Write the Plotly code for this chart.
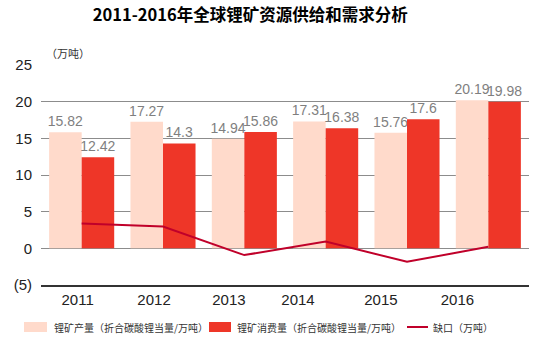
import plotly.graph_objects as go

years = ["2011", "2012", "2013", "2014", "2015", "2016"]
supply = [15.82, 17.27, 14.94, 17.31, 15.76, 20.19]
demand = [12.42, 14.3, 15.86, 16.38, 17.6, 19.98]
gap = [3.4, 2.97, -0.92, 0.93, -1.84, 0.21]

y_ticks = [-5, 0, 5, 10, 15, 20, 25]
y_tick_text = ["(5)", "0", "5", "10", "15", "20", "25"]

series_names = ["锂矿产量（折合碳酸锂当量/万吨）", "锂矿消费量（折合碳酸锂当量/万吨）", "缺口（万吨）"]

xpos = list(range(len(years)))
# year labels sit slightly left of each group
label_shift = [-0.05, -0.11, -0.19, -0.34, -0.32, -0.38]

LIGHT = "#FFDACB"
DARK = "#EE3628"
LINE = "#C0002A"
CJK = "Noto Sans CJK SC"
W, H = 550, 338
ML, MR, MT, MB = 41, 21, 65, 53

fig = go.Figure()
for vals, name, color in [(supply, series_names[0], LIGHT), (demand, series_names[1], DARK)]:
    fig.add_trace(go.Bar(
        x=xpos, y=vals, name=name,
        marker=dict(color=color, line=dict(width=0)),
        text=[f"{v:g}" for v in vals], textposition="outside",
        constraintext="none",
        textfont=dict(color="#7F7F7F", size=14, family="Liberation Sans"),
        cliponaxis=False,
    ))
fig.add_trace(go.Scatter(
    x=xpos, y=gap, name=series_names[2], mode="lines",
    line=dict(color=LINE, width=2),
))

# legend drawn along the bottom edge in pixel units
pw, ph = W - ML - MR, H - MT - MB
def px_x(p):
    return (p - ML) / pw
def px_y(p):
    return (H - MB - p) / ph

shapes = [
    dict(type="rect", xref="paper", yref="paper", x0=px_x(24), x1=px_x(47),
         y0=px_y(332), y1=px_y(322), fillcolor=LIGHT, line=dict(width=0)),
    dict(type="rect", xref="paper", yref="paper", x0=px_x(209), x1=px_x(231),
         y0=px_y(332), y1=px_y(322), fillcolor=DARK, line=dict(width=0)),
    dict(type="line", xref="paper", yref="paper", x0=px_x(407), x1=px_x(428),
         y0=px_y(327), y1=px_y(327), line=dict(color=LINE, width=2)),
]
annotations = [
    dict(text="（万吨）", xref="paper", yref="paper", x=px_x(44), y=px_y(53),
         xanchor="left", yanchor="middle", showarrow=False,
         font=dict(family=CJK, size=11, color="#333333")),
]
for x0, name in [(52, series_names[0]), (235, series_names[1]), (431, series_names[2])]:
    annotations.append(dict(
        text=name, xref="paper", yref="paper", x=px_x(x0), y=px_y(327),
        xanchor="left", yanchor="middle", showarrow=False,
        font=dict(family=CJK, size=10, color="#333333"),
    ))

fig.update_layout(
    width=W, height=H,
    margin=dict(l=ML, r=MR, t=MT, b=MB),
    paper_bgcolor="white", plot_bgcolor="white",
    barmode="group", bargap=0.2, bargroupgap=0,
    showlegend=False,
    title=dict(
        text="<b>2011-2016年全球锂矿资源供给和需求分析</b>",
        x=0.455, xanchor="center", y=0.955, yanchor="middle",
        font=dict(family=CJK, size=16.5, color="#000000"),
    ),
    font=dict(family=CJK, color="#333333"),
    xaxis=dict(
        range=[-0.5, 5.5],
        tickvals=[p + s for p, s in zip(xpos, label_shift)],
        ticktext=years, ticks="",
        tickfont=dict(family="Liberation Sans", size=15, color="#222222"),
        showgrid=False, zeroline=False,
        showline=True, linecolor="#333333", linewidth=1.5,
    ),
    yaxis=dict(
        range=[-5, 25], tickvals=y_ticks, ticktext=y_tick_text,
        tickfont=dict(family="Liberation Sans", size=15, color="#222222"),
        showgrid=True, gridcolor="#8C8C8C", gridwidth=1,
        zeroline=True, zerolinecolor="#8C8C8C", zerolinewidth=1,
        ticks="", ticklabelstandoff=8,
    ),
    shapes=shapes,
    annotations=annotations,
)

fig.write_html("out.html")
